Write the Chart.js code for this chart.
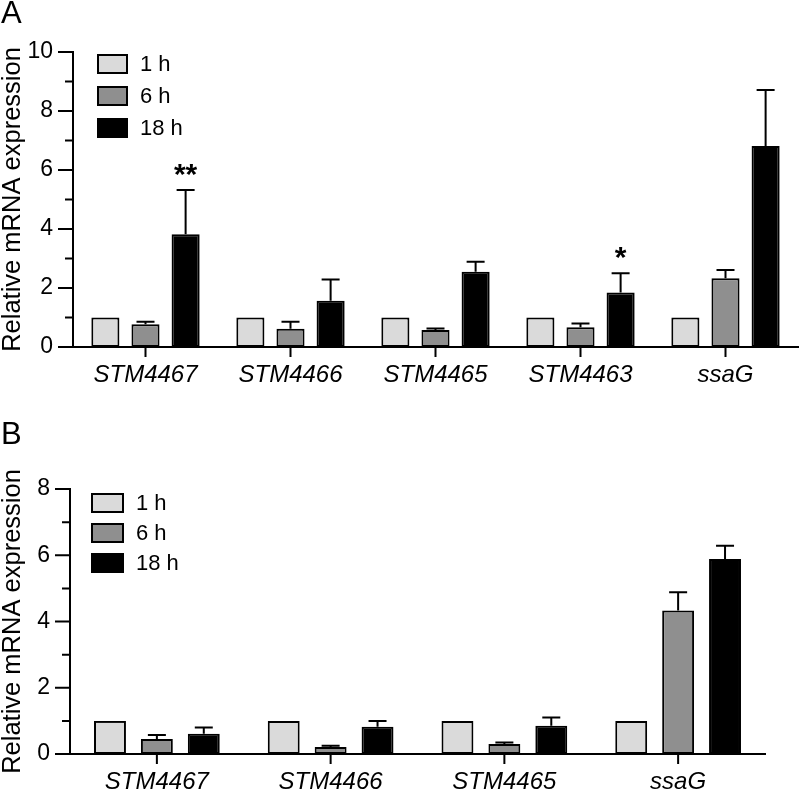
<!DOCTYPE html>
<html>
<head>
<meta charset="utf-8">
<script src="https://cdn.jsdelivr.net/npm/chart.js@4"></script>
<style>
  body { margin: 0; background: #fff; font-family: "Liberation Sans", Arial, sans-serif; }
  .panel { position: relative; width: 800px; }
  .tag { position: absolute; left: 1px; font-size: 31px; color: #000; line-height: 1; }
</style>
</head>
<body>
<div class="panel" style="height:390px">
  <div class="tag" style="top:-3px">A</div>
  <canvas id="chartA"></canvas>
</div>
<div class="panel" style="height:405px">
  <div class="tag" style="top:28px">B</div>
  <canvas id="chartB"></canvas>
</div>
<script>
// panel A
const genesA = ['STM4467', 'STM4466', 'STM4465', 'STM4463', 'ssaG'];
const a1h = [1, 1, 1, 1, 1];
const a6h = [0.77, 0.62, 0.58, 0.67, 2.33];
const a18h = [3.82, 1.57, 2.55, 1.85, 6.81];
const a6hErr = [0.09, 0.24, 0.05, 0.13, 0.28];
const a18hErr = [1.5, 0.72, 0.34, 0.65, 1.9];
const a18hSig = ['**', '', '', '*', ''];

// panel B
const genesB = ['STM4467', 'STM4466', 'STM4465', 'ssaG'];
const b1h = [1, 1, 1, 1];
const b6h = [0.45, 0.21, 0.30, 4.33];
const b18h = [0.61, 0.82, 0.85, 5.89];
const b6hErr = [0.12, 0.04, 0.05, 0.55];
const b18hErr = [0.19, 0.18, 0.25, 0.4];

const timeLabels = ['1 h', '6 h', '18 h'];
const fills = ['#dadada', '#8f8f8f', '#000000'];
const FONT = '"Liberation Sans", Arial, sans-serif';

// draws error caps, significance stars, axis ticks and the boxed legend
const figurePlugin = {
  id: 'figure',
  afterDatasetsDraw(chart, args, opts) {
    const ctx = chart.ctx;
    const y = chart.scales.y;
    ctx.save();
    ctx.strokeStyle = '#000';
    ctx.lineWidth = 2;
    chart.data.datasets.forEach((ds, i) => {
      if (!ds.err) return;
      const meta = chart.getDatasetMeta(i);
      meta.data.forEach((bar, j) => {
        const top = y.getPixelForValue(ds.data[j] + ds.err[j]);
        ctx.beginPath();
        ctx.moveTo(bar.x, bar.y);
        ctx.lineTo(bar.x, top);
        ctx.moveTo(bar.x - 9, top);
        ctx.lineTo(bar.x + 9, top);
        ctx.stroke();
        if (ds.sig && ds.sig[j]) {
          ctx.fillStyle = '#000';
          ctx.font = 'bold 30px ' + FONT;
          ctx.textAlign = 'center';
          ctx.textBaseline = 'alphabetic';
          ctx.fillText(ds.sig[j], bar.x, top - 6);
        }
      });
    });
    ctx.restore();
  },
  afterDraw(chart, args, opts) {
    const ctx = chart.ctx;
    const y = chart.scales.y;
    const x = chart.scales.x;
    const area = chart.chartArea;
    ctx.save();
    ctx.strokeStyle = '#000';
    ctx.lineWidth = 2;
    ctx.beginPath();
    y.ticks.forEach(t => {
      const py = y.getPixelForValue(t.value);
      const len = t.value % 2 === 0 ? 15 : 8;
      ctx.moveTo(area.left - len, py);
      ctx.lineTo(area.left, py);
    });
    x.ticks.forEach((t, i) => {
      const px = x.getPixelForTick(i);
      ctx.moveTo(px, area.bottom);
      ctx.lineTo(px, area.bottom + 10);
    });
    ctx.stroke();

    // legend
    const lg = opts.legend;
    ctx.font = '22px ' + FONT;
    ctx.textAlign = 'left';
    ctx.textBaseline = 'middle';
    chart.data.datasets.forEach((ds, i) => {
      const bx = area.left + lg.dx;
      const by = area.top + lg.dy + i * lg.step;
      ctx.fillStyle = ds.backgroundColor;
      ctx.fillRect(bx, by, lg.w, lg.h);
      ctx.strokeRect(bx + 1, by + 1, lg.w - 2, lg.h - 2);
      ctx.fillStyle = '#000';
      ctx.fillText(ds.label, bx + lg.w + 12, by + lg.h / 2 + 1);
    });
    ctx.restore();
  }
};

function makeChart(id, genes, series, errs, sigs, cfg) {
  const datasets = series.map((vals, i) => ({
    label: timeLabels[i],
    data: vals,
    err: errs[i],
    sig: sigs[i],
    backgroundColor: fills[i],
    borderColor: '#000',
    borderWidth: 2,
    borderSkipped: false,
    barPercentage: cfg.barPct,
    categoryPercentage: cfg.catPct
  }));
  return new Chart(document.getElementById(id), {
    type: 'bar',
    data: { labels: genes, datasets },
    plugins: [figurePlugin],
    options: {
      responsive: true,
      maintainAspectRatio: false,
      animation: false,
      layout: { padding: { top: cfg.top, right: cfg.right, left: 0, bottom: 0 } },
      plugins: {
        legend: { display: false },
        tooltip: { enabled: false },
        figure: { legend: cfg.legend }
      },
      scales: {
        x: {
          grid: { display: false, drawTicks: false },
          border: { display: true, color: '#000', width: 2 },
          ticks: {
            color: '#000',
            padding: 14,
            maxRotation: 0,
            font: { family: FONT, size: 24, style: 'italic' }
          },
          afterFit: s => { s.height = cfg.bottom; }
        },
        y: {
          min: 0,
          max: cfg.ymax,
          grid: { display: false, drawTicks: false },
          border: { display: true, color: '#000', width: 2 },
          ticks: {
            stepSize: 1,
            autoSkip: false,
            color: '#000',
            padding: 20,
            font: { family: FONT, size: 23 },
            callback: v => (v % 2 === 0 ? v : '')
          },
          title: {
            display: true,
            text: 'Relative mRNA expression',
            color: '#000',
            padding: 0,
            font: { family: FONT, size: 25.5, lineHeight: 1 }
          },
          afterFit: s => { s.width = cfg.left; }
        }
      }
    }
  });
}

makeChart('chartA', genesA, [a1h, a6h, a18h], [null, a6hErr, a18hErr], [null, null, a18hSig], {
  ymax: 10, top: 52, right: 2, left: 73, bottom: 43,
  barPct: 0.7, catPct: 0.83,
  legend: { dx: 24, dy: 2, step: 32, w: 31, h: 20 }
});

makeChart('chartB', genesB, [b1h, b6h, b18h], [null, b6hErr, b18hErr], [null, null, null], {
  ymax: 8, top: 99, right: 35, left: 70, bottom: 41,
  barPct: 0.68, catPct: 0.81,
  legend: { dx: 21, dy: 4, step: 30, w: 33, h: 20 }
});
</script>
</body>
</html>
